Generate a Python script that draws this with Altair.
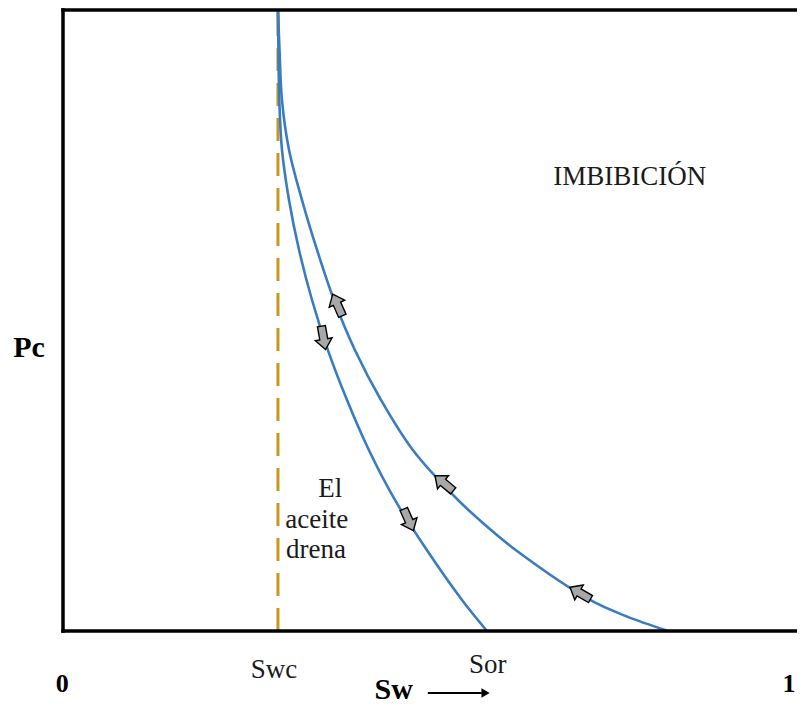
import altair as alt
import pandas as pd

# Drainage curve (inner)
drain_sw = [0.2905, 0.2911, 0.2923, 0.2959, 0.3054, 0.3189, 0.3365, 0.3581, 0.3838, 0.4135, 0.4486, 0.4919, 0.5392, 0.5730]
drain_pc = [1.000, 0.936, 0.855, 0.775, 0.694, 0.614, 0.533, 0.452, 0.372, 0.291, 0.211, 0.130, 0.050, 0.000]
# Imbibition curve (outer)
imb_sw = [0.2905, 0.2926, 0.2959, 0.3054, 0.3230, 0.3432, 0.3662, 0.3946, 0.4297, 0.4730, 0.5338, 0.5703, 0.6122, 0.7122, 0.7608, 0.8176]
imb_pc = [1.000, 0.936, 0.855, 0.775, 0.694, 0.614, 0.533, 0.452, 0.372, 0.291, 0.211, 0.171, 0.130, 0.050, 0.024, 0.000]

swc = 0.2905

# Direction arrows on the curves
arrow_sw = [0.371, 0.352, 0.515, 0.467, 0.699]
arrow_pc = [0.525, 0.472, 0.238, 0.179, 0.061]
arrow_angle = [336, 170, 310, 156, 300]

# Labels
reg_text = ["IMBIBICIÓN", "El", "aceite", "drena", "Swc", "Sor"]
reg_x = [0.766, 0.361, 0.343, 0.342, 0.285, 0.574]
reg_y = [0.718, 0.216, 0.166, 0.118, -0.076, -0.068]

bold_text = ["Pc", "0", "1", "Sw"]
bold_x = [-0.046, -0.001, 0.981, 0.447]
bold_y = [0.441, -0.098, -0.098, -0.1095]
bold_size = [30, 26, 26, 30]

XMAX = 0.9919  # right edge of the visible frame

BLUE = "#3A7CC1"
GOLD = "#C9961E"
FONT = "Liberation Serif"

xs = alt.Scale(domain=[0, XMAX], nice=False, zero=False)
ys = alt.Scale(domain=[0, 1], nice=False, zero=False)


def X(f):
    return alt.X(f, scale=xs, axis=None)


def Y(f):
    return alt.Y(f, scale=ys, axis=None)


curves = pd.DataFrame({
    "sw": drain_sw + imb_sw,
    "pc": drain_pc + imb_pc,
    "curve": ["drenaje"] * len(drain_sw) + ["imbibicion"] * len(imb_sw),
    "order": list(range(len(drain_sw))) + list(range(len(imb_sw))),
})

lines = alt.Chart(curves).mark_line(color=BLUE, strokeWidth=2.6, interpolate="catmull-rom").encode(
    x=X("sw:Q"), y=Y("pc:Q"), detail="curve:N", order="order:Q",
)

dash = alt.Chart(pd.DataFrame({"sw": [swc], "y0": [0.0], "y1": [1.0]})).mark_rule(
    color=GOLD, strokeWidth=3, strokeDash=[23, 12]
).encode(x=X("sw:Q"), y=Y("y0:Q"), y2="y1:Q")

frame_v = alt.Chart(pd.DataFrame({"x": [0.0], "y0": [0.0], "y1": [1.0]})).mark_rule(
    color="black", strokeWidth=3.5, strokeCap="square"
).encode(x=X("x:Q"), y=Y("y0:Q"), y2="y1:Q")

frame_h = alt.Chart(pd.DataFrame({"x0": [0.0, 0.0], "x1": [XMAX, XMAX], "y": [0.0, 1.0]})).mark_rule(
    color="black", strokeWidth=3.5, strokeCap="square"
).encode(x=X("x0:Q"), x2="x1:Q", y=Y("y:Q"))

arrow_path = "M0,-1L0.72,-0.12L0.34,-0.12L0.34,1L-0.34,1L-0.34,-0.12L-0.72,-0.12Z"
arrows = alt.Chart(pd.DataFrame({"sw": arrow_sw, "pc": arrow_pc, "ang": arrow_angle})).mark_point(
    shape=arrow_path, filled=True, fill="#A8A8A8", stroke="black", strokeWidth=1.4, size=560, opacity=1
).encode(
    x=X("sw:Q"), y=Y("pc:Q"),
    angle=alt.Angle("ang:Q", scale=None),
)

reg = alt.Chart(pd.DataFrame({"t": reg_text, "x": reg_x, "y": reg_y})).mark_text(
    font=FONT, fontSize=27, color="#1a1a1a", align="center", baseline="alphabetic"
).encode(x=X("x:Q"), y=Y("y:Q"), text="t:N")

bold = alt.Chart(pd.DataFrame({"t": bold_text, "x": bold_x, "y": bold_y, "s": bold_size})).mark_text(
    font=FONT, fontWeight="bold", color="black", align="center", baseline="alphabetic"
).encode(
    x=X("x:Q"), y=Y("y:Q"), text="t:N",
    size=alt.Size("s:Q", scale=None),
)

# Arrow next to "Sw"
sw_arrow = alt.Chart(pd.DataFrame({"x0": [0.493], "x1": [0.566], "y": [-0.0998]})).mark_rule(
    color="black", strokeWidth=2
).encode(x=X("x0:Q"), x2="x1:Q", y=Y("y:Q"))

sw_head = alt.Chart(pd.DataFrame({"x": [0.571], "y": [-0.0998]})).mark_point(
    shape="triangle-right", filled=True, color="black", size=90, opacity=1
).encode(x=X("x:Q"), y=Y("y:Q"))

chart = alt.layer(
    dash, lines, arrows, frame_v, frame_h, reg, bold, sw_arrow, sw_head
).properties(
    width=734, height=621,
    autosize=alt.AutoSizeParams(type="none"),
    padding={"left": 55, "top": 2, "right": 0, "bottom": 75},
    background="white",
).configure_view(strokeWidth=0)

chart.save("out.html", embed_options={"renderer": "svg", "actions": False})
